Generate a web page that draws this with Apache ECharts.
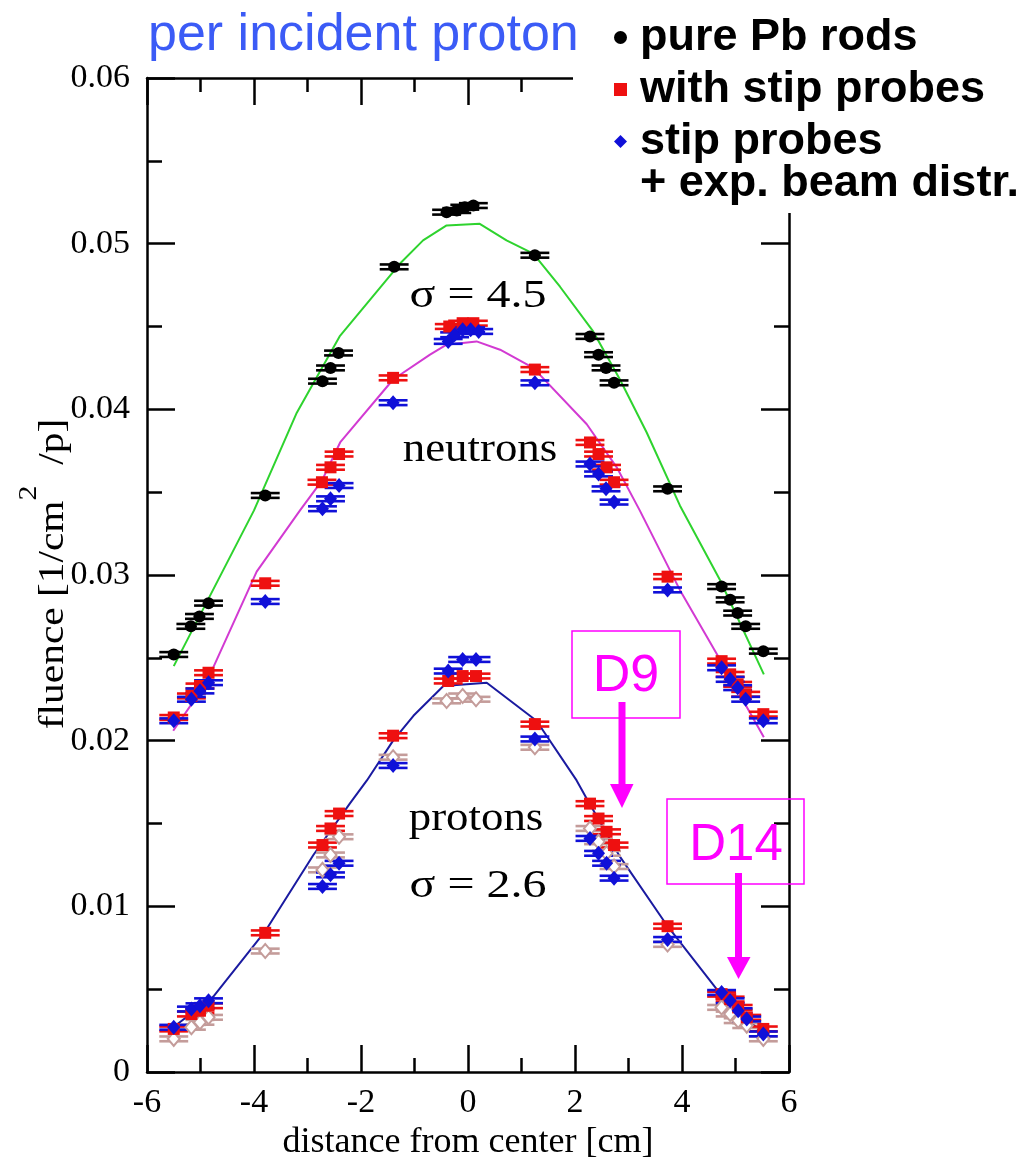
<!DOCTYPE html>
<html>
<head>
<meta charset="utf-8">
<script src="https://cdn.jsdelivr.net/npm/echarts@6.0.0/dist/echarts.min.js"></script>
<style>
  html, body { margin: 0; padding: 0; background: #fff; }
  #fluence-chart { width: 1030px; height: 1162px; }
</style>
</head>
<body>
<div id="fluence-chart"></div>
<script>
// axis ticks
var xTicks = [-6, -4, -2, 0, 2, 4, 6];
var yTicks = [0, 0.01, 0.02, 0.03, 0.04, 0.05, 0.06];

// neutrons, pure Pb rods (black)
var pbX = [-5.5, -5.18, -5.02, -4.85, -3.79, -2.72, -2.57, -2.42, -1.38, -0.4, -0.21, -0.06, 0.1, 1.25, 2.28, 2.44, 2.58, 2.73, 3.73, 4.74, 4.9, 5.04, 5.19, 5.52];
var pbY = [0.0252, 0.0269, 0.0275, 0.0283, 0.0348, 0.0417, 0.0425, 0.0434, 0.0486, 0.0519, 0.0520, 0.0522, 0.0523, 0.0493, 0.0444, 0.0433, 0.0425, 0.0416, 0.0352, 0.0293, 0.0285, 0.0277, 0.0269, 0.0254];

// neutrons, with stip probes (red)
var stipNX = [-5.5, -5.17, -5.01, -4.85, -3.79, -2.73, -2.57, -2.41, -1.4, -0.35, -0.1, 0.1, 1.25, 2.28, 2.44, 2.59, 2.73, 3.73, 4.74, 4.9, 5.04, 5.19, 5.52];
var stipNY = [0.0214, 0.0227, 0.0233, 0.0241, 0.0295, 0.0356, 0.0365, 0.0373, 0.0419, 0.0450, 0.0452, 0.0452, 0.0424, 0.0380, 0.0373, 0.0365, 0.0356, 0.0299, 0.0248, 0.0240, 0.0234, 0.0228, 0.0216];

// neutrons, stip probes + exp. beam distr. (blue)
var beamNX = [-5.5, -5.17, -5.01, -4.85, -3.79, -2.72, -2.57, -2.41, -1.4, -0.37, -0.25, -0.1, 0.05, 0.2, 1.25, 2.28, 2.44, 2.58, 2.73, 3.73, 4.74, 4.9, 5.04, 5.19, 5.52];
var beamNY = [0.0212, 0.0225, 0.0230, 0.0235, 0.0284, 0.0340, 0.0346, 0.0354, 0.0404, 0.0441, 0.0445, 0.0448, 0.0448, 0.0447, 0.0416, 0.0367, 0.0361, 0.0352, 0.0344, 0.0291, 0.0244, 0.0237, 0.0232, 0.0225, 0.0212];

// protons, with stip probes (red)
var stipPX = [-5.5, -5.17, -5.01, -4.85, -3.79, -2.72, -2.57, -2.41, -1.4, -0.37, -0.1, 0.15, 1.25, 2.28, 2.44, 2.59, 2.73, 3.73, 4.74, 4.9, 5.05, 5.21, 5.52];
var stipPY = [0.0026, 0.0035, 0.0037, 0.0040, 0.0084, 0.0137, 0.0147, 0.0156, 0.0203, 0.0236, 0.0239, 0.0239, 0.0210, 0.0162, 0.0153, 0.0145, 0.0137, 0.0088, 0.0047, 0.0044, 0.0039, 0.0033, 0.0026];

// protons, stip probes + exp. beam distr. (blue)
var beamPX = [-5.5, -5.17, -5.01, -4.85, -2.72, -2.57, -2.41, -1.4, -0.37, -0.1, 0.15, 1.25, 2.28, 2.44, 2.59, 2.73, 3.73, 4.74, 4.9, 5.05, 5.21, 5.52];
var beamPY = [0.0027, 0.0038, 0.0040, 0.0043, 0.0112, 0.0119, 0.0126, 0.0185, 0.0242, 0.0249, 0.0249, 0.0201, 0.0141, 0.0132, 0.0126, 0.0117, 0.0080, 0.0048, 0.0043, 0.0037, 0.0032, 0.0023];

// protons, fourth set (open brown diamonds)
var openPX = [-5.5, -5.17, -5.01, -4.85, -3.79, -2.72, -2.57, -2.41, -1.4, -0.4, -0.1, 0.15, 1.25, 2.28, 2.44, 2.59, 2.73, 3.73, 4.74, 4.9, 5.05, 5.21, 5.52];
var openPY = [0.0020, 0.0027, 0.0030, 0.0033, 0.0073, 0.0122, 0.0131, 0.0142, 0.0190, 0.0224, 0.0227, 0.0225, 0.0196, 0.0147, 0.0139, 0.0132, 0.0124, 0.0077, 0.0039, 0.0035, 0.0031, 0.0028, 0.0020];

// model curves
var neutronFitX = [-5.5, -4.0, -3.2, -2.4, -1.27, -0.84, -0.4, 0.22, 0.72, 1.22, 1.72, 2.34, 2.84, 3.34, 3.96, 4.71, 5.53];
var neutronFitY = [0.0245, 0.0339, 0.0398, 0.0444, 0.0488, 0.0502, 0.0511, 0.0512, 0.0502, 0.0494, 0.0474, 0.0447, 0.0418, 0.0386, 0.0342, 0.0297, 0.0240];
var stipFitX = [-5.51, -4.89, -3.95, -3.14, -2.73, -2.39, -1.4, -0.71, -0.4, 0.16, 0.6, 1.22, 2.22, 2.78, 3.21, 3.96, 4.71, 5.53];
var stipFitY = [0.0206, 0.0235, 0.0302, 0.0339, 0.0357, 0.0380, 0.0418, 0.0433, 0.0439, 0.0441, 0.0436, 0.0425, 0.0391, 0.0365, 0.0339, 0.0291, 0.0249, 0.0202];
var protonFitX = [-5.51, -4.76, -3.79, -2.89, -2.21, -1.89, -1.4, -1.02, -0.46, 0.35, 1.28, 2.03, 2.22, 2.84, 3.73, 4.71, 5.52];
var protonFitY = [0.0027, 0.00455, 0.0085, 0.0131, 0.0162, 0.0176, 0.0200, 0.0215, 0.0233, 0.0235, 0.0212, 0.0176, 0.0165, 0.0130, 0.0088, 0.00475, 0.0023];

// horizontal error (cm)
var xErr = 0.27;

var chart = echarts.init(document.getElementById('fluence-chart'));

function pairs(xs, ys) {
  return xs.map(function (x, i) { return [x, ys[i]]; });
}

function errorBars(xs, ys, color) {
  return {
    type: 'custom',
    silent: true,
    z: 3,
    data: pairs(xs, ys),
    renderItem: function (params, api) {
      var x = api.value(0);
      var y = api.value(1);
      var a = api.coord([x - xErr, y]);
      var b = api.coord([x + xErr, y]);
      return {
        type: 'group',
        children: [
          { type: 'line', shape: { x1: a[0], y1: a[1] - 2.4, x2: b[0], y2: b[1] - 2.4 }, style: { stroke: color, lineWidth: 2.6 } },
          { type: 'line', shape: { x1: a[0], y1: a[1] + 2.4, x2: b[0], y2: b[1] + 2.4 }, style: { stroke: color, lineWidth: 2.6 } }
        ]
      };
    }
  };
}

function fitLine(xs, ys, color) {
  return {
    type: 'line',
    silent: true,
    z: 2,
    showSymbol: false,
    data: pairs(xs, ys),
    lineStyle: { color: color, width: 2 }
  };
}

var serif = '"Liberation Serif", "DejaVu Serif", serif';
var sans = '"Liberation Sans", Arial, sans-serif';

var tickStyle = { color: '#000', width: 2.5 };

var option = {
  animation: false,
  backgroundColor: '#fff',
  grid: { left: 147, right: 241, top: 78, bottom: 90, containLabel: false, outerBoundsMode: 'none' },
  legend: {
    data: ['pure Pb rods', 'with stip probes', 'stip probes'],
    orient: 'vertical',
    left: 609,
    top: 10,
    z: 60,
    itemWidth: 13,
    itemHeight: 13,
    itemGap: 7,
    textStyle: {
      fontFamily: sans,
      fontWeight: 'bold',
      fontSize: 45,
      lineHeight: 44,
      color: '#000',
      padding: [0, 0, 0, 8]
    }
  },
  xAxis: [{
    type: 'value',
    position: 'bottom',
    min: xTicks[0],
    max: xTicks[xTicks.length - 1],
    interval: 2,
    name: 'distance from center [cm]',
    nameLocation: 'middle',
    nameGap: 50,
    nameTextStyle: { fontFamily: serif, fontSize: 36, color: '#000' },
    axisLine: { onZero: false, lineStyle: tickStyle },
    axisTick: { inside: true, length: 27, lineStyle: tickStyle },
    minorTick: { show: true, splitNumber: 2, length: 14, lineStyle: tickStyle },
    splitLine: { show: false },
    axisLabel: { fontFamily: serif, fontSize: 34, color: '#000', margin: 14 }
  }, {
    type: 'value',
    position: 'top',
    min: xTicks[0],
    max: xTicks[xTicks.length - 1],
    interval: 2,
    axisLine: { onZero: false, lineStyle: tickStyle },
    axisTick: { inside: true, length: 27, lineStyle: tickStyle },
    minorTick: { show: true, splitNumber: 2, length: 14, lineStyle: tickStyle },
    splitLine: { show: false },
    axisLabel: { show: false }
  }],
  yAxis: [{
    type: 'value',
    position: 'left',
    min: yTicks[0],
    max: yTicks[yTicks.length - 1],
    interval: 0.01,
    axisLine: { onZero: false, lineStyle: tickStyle },
    axisTick: { inside: true, length: 28, lineStyle: tickStyle },
    minorTick: { show: true, splitNumber: 2, length: 15, lineStyle: tickStyle },
    splitLine: { show: false },
    axisLabel: {
      fontFamily: serif, fontSize: 34, color: '#000', margin: 17,
      formatter: function (v) { return v === 0 ? '0' : v.toFixed(2); }
    }
  }, {
    type: 'value',
    position: 'right',
    min: yTicks[0],
    max: yTicks[yTicks.length - 1],
    interval: 0.01,
    axisLine: { onZero: false, lineStyle: tickStyle },
    axisTick: { inside: true, length: 28, lineStyle: tickStyle },
    minorTick: { show: true, splitNumber: 2, length: 15, lineStyle: tickStyle },
    splitLine: { show: false },
    axisLabel: { show: false }
  }],
  series: [
    fitLine(neutronFitX, neutronFitY, '#2ed32e'),
    fitLine(stipFitX, stipFitY, '#d23ad2'),
    fitLine(protonFitX, protonFitY, '#1a1aa0'),

    errorBars(pbX, pbY, '#000'),
    errorBars(stipNX, stipNY, '#ee1010'),
    errorBars(beamNX, beamNY, '#1010d8'),
    errorBars(openPX, openPY, '#c49c9a'),
    errorBars(stipPX, stipPY, '#ee1010'),
    errorBars(beamPX, beamPY, '#1010d8'),

    {
      name: 'pure Pb rods', type: 'scatter', z: 4, symbol: 'circle', symbolSize: 12,
      itemStyle: { color: '#000', opacity: 1 }, data: pairs(pbX, pbY)
    },
    {
      name: 'with stip probes', type: 'scatter', z: 4, symbol: 'rect', symbolSize: 12,
      itemStyle: { color: '#ee1010', opacity: 1 }, data: pairs(stipNX, stipNY)
    },
    {
      name: 'stip probes', type: 'scatter', z: 4, symbol: 'diamond', symbolSize: [13, 15],
      itemStyle: { color: '#1010d8', opacity: 1 }, data: pairs(beamNX, beamNY)
    },
    {
      name: 'open diamonds', type: 'scatter', z: 4, symbol: 'diamond', symbolSize: [12, 14],
      itemStyle: { color: '#fff', borderColor: '#c49c9a', borderWidth: 2, opacity: 1 }, data: pairs(openPX, openPY)
    },
    {
      name: 'with stip probes', type: 'scatter', z: 4, symbol: 'rect', symbolSize: 12,
      itemStyle: { color: '#ee1010', opacity: 1 }, data: pairs(stipPX, stipPY)
    },
    {
      name: 'stip probes', type: 'scatter', z: 4, symbol: 'diamond', symbolSize: [13, 15],
      itemStyle: { color: '#1010d8', opacity: 1 }, data: pairs(beamPX, beamPY)
    }
  ],
  graphic: {
    elements: [
      // white panel behind the legend, it hides the frame corner like the slide did
      { type: 'rect', z: 50, shape: { x: 573, y: 0, width: 457, height: 213 }, style: { fill: '#fff' } },
      {
        type: 'text', z: 60, x: 640, y: 184,
        style: { text: '+ exp. beam distr.', font: 'bold 45px ' + sans, fill: '#000', verticalAlign: 'middle', textVerticalAlign: 'middle' }
      },
      {
        type: 'text', z: 60, x: 148, y: 36,
        style: { text: 'per incident proton', font: '52px ' + sans, fill: '#3b5bf6', verticalAlign: 'middle', textVerticalAlign: 'middle' }
      },
      {
        type: 'text', z: 10, x: 44, y: 574, rotation: Math.PI / 2, scaleX: 1.15,
        style: {
          text: '{a|fluence [1/cm}{b|2}{a|  /p]}',
          align: 'center', textAlign: 'center', verticalAlign: 'middle', textVerticalAlign: 'middle',
          rich: {
            a: { font: '36px ' + serif, fill: '#000', lineHeight: 56, verticalAlign: 'bottom' },
            b: { font: '26px ' + serif, fill: '#000', lineHeight: 26, verticalAlign: 'top' }
          }
        }
      },
      {
        type: 'text', z: 10, x: 478, y: 296, scaleX: 1.2,
        style: { text: 'σ = 4.5', font: '40px ' + serif, fill: '#000', align: 'center', textAlign: 'center', verticalAlign: 'middle', textVerticalAlign: 'middle' }
      },
      {
        type: 'text', z: 10, x: 480, y: 451, scaleX: 1.15,
        style: { text: 'neutrons', font: '39px ' + serif, fill: '#000', align: 'center', textAlign: 'center', verticalAlign: 'middle', textVerticalAlign: 'middle' }
      },
      {
        type: 'text', z: 10, x: 476, y: 820, scaleX: 1.15,
        style: { text: 'protons', font: '39px ' + serif, fill: '#000', align: 'center', textAlign: 'center', verticalAlign: 'middle', textVerticalAlign: 'middle' }
      },
      {
        type: 'text', z: 10, x: 478, y: 886, scaleX: 1.2,
        style: { text: 'σ = 2.6', font: '40px ' + serif, fill: '#000', align: 'center', textAlign: 'center', verticalAlign: 'middle', textVerticalAlign: 'middle' }
      },

      // D9 marker
      { type: 'rect', z: 10, shape: { x: 572, y: 631, width: 108, height: 87 }, style: { fill: null, stroke: '#ff00ff', lineWidth: 1.5 } },
      {
        type: 'text', z: 10, x: 626, y: 677,
        style: { text: 'D9', font: '52px ' + sans, fill: '#ff00ff', align: 'center', textAlign: 'center', verticalAlign: 'middle', textVerticalAlign: 'middle' }
      },
      { type: 'rect', z: 10, shape: { x: 618.5, y: 702, width: 7, height: 84 }, style: { fill: '#ff00ff' } },
      { type: 'polygon', z: 10, shape: { points: [[610, 784], [633.5, 784], [622, 808]] }, style: { fill: '#ff00ff' } },

      // D14 marker
      { type: 'rect', z: 10, shape: { x: 667, y: 799, width: 137, height: 85 }, style: { fill: null, stroke: '#ff00ff', lineWidth: 1.5 } },
      {
        type: 'text', z: 10, x: 736, y: 846,
        style: { text: 'D14', font: '51px ' + sans, fill: '#ff00ff', align: 'center', textAlign: 'center', verticalAlign: 'middle', textVerticalAlign: 'middle' }
      },
      { type: 'rect', z: 10, shape: { x: 735, y: 873, width: 7, height: 86 }, style: { fill: '#ff00ff' } },
      { type: 'polygon', z: 10, shape: { points: [[727, 957], [750.5, 957], [738.5, 979]] }, style: { fill: '#ff00ff' } }
    ]
  }
};

chart.setOption(option);
</script>
</body>
</html>
